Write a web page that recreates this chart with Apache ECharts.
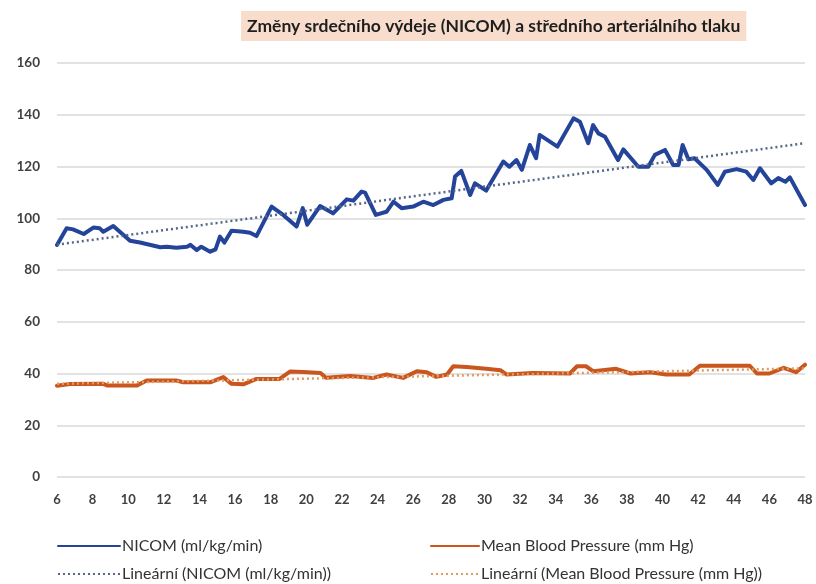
<!DOCTYPE html>
<html>
<head>
<meta charset="utf-8">
<script src="https://cdn.jsdelivr.net/npm/echarts@6/dist/echarts.min.js"></script>
<style>
html,body{margin:0;padding:0;background:#fff;}
#chart{width:816px;height:584px;}
</style>
</head>
<body>
<div id="chart"></div>
<script>
const titleText = 'Změny srdečního výdeje (NICOM) a středního arteriálního tlaku';
const xTicks = {min: 6, max: 48, interval: 2};
const yTicks = {min: 0, max: 160, interval: 20};
const seriesNames = ['NICOM (ml/kg/min)', 'Mean Blood Pressure (mm Hg)', 'Lineární (NICOM (ml/kg/min))', 'Lineární (Mean Blood Pressure (mm Hg))'];

const nicom = [
  [6, 89.7], [6.54, 96.1], [6.9, 95.7], [7.5, 93.9], [8.04, 96.4], [8.4, 96.1], [8.6, 94.8], [9.16, 97.0],
  [10.1, 91.3], [10.66, 90.6], [11.8, 88.8], [12.16, 89.0], [12.7, 88.6], [13.3, 89.0], [13.5, 89.7],
  [13.84, 87.7], [14.1, 89.0], [14.6, 87.1], [14.9, 88.0], [15.15, 92.9], [15.4, 90.6], [15.8, 95.2],
  [16.46, 94.8], [16.84, 94.4], [17.2, 93.1], [18.05, 104.5], [18.7, 101.3], [19.45, 96.8], [19.8, 103.9],
  [20.05, 97.5], [20.77, 104.7], [21.5, 101.9], [22.27, 107.3], [22.64, 106.8], [23.1, 110.3], [23.3, 109.9],
  [23.9, 101.3], [24.5, 102.5], [24.9, 106.4], [25.35, 103.9], [26.0, 104.5], [26.57, 106.4], [27.13, 105.1],
  [27.7, 107.1], [28.16, 107.7], [28.35, 116.1], [28.7, 118.3], [29.2, 109.0], [29.47, 113.5], [30.1, 110.7],
  [31.06, 121.9], [31.4, 119.9], [31.8, 122.5], [32.1, 118.7], [32.55, 128.3], [32.9, 123.2], [33.1, 132.2],
  [34.1, 127.7], [35.0, 138.6], [35.36, 137.3], [35.83, 129.0], [36.1, 136.0], [36.4, 132.8], [36.77, 131.5],
  [37.5, 122.5], [37.8, 126.6], [38.64, 119.9], [39.2, 119.9], [39.57, 124.5], [40.14, 126.4], [40.6, 120.6],
  [40.9, 120.6], [41.13, 128.3], [41.45, 122.8], [41.8, 123.2], [42.48, 118.7], [43.1, 112.9], [43.5, 118.0],
  [44.16, 119.0], [44.7, 118.0], [45.1, 114.8], [45.47, 119.3], [46.1, 113.5], [46.5, 115.5], [46.9, 114.1],
  [47.15, 115.8], [48, 105.1]
];

const mbp = [
  [6, 35.3], [6.73, 35.9], [8.6, 36.0], [8.8, 35.4], [10.5, 35.4], [11.04, 37.3], [12.7, 37.3], [13.1, 36.6],
  [14.6, 36.6], [15.34, 38.6], [15.8, 36.0], [16.46, 35.8], [17.2, 37.9], [18.5, 37.9], [19.1, 40.8],
  [19.83, 40.6], [20.8, 40.2], [21.1, 38.4], [22.45, 39.0], [23.76, 38.3], [24.5, 39.6], [25.44, 38.3],
  [26.2, 40.9], [26.76, 40.5], [27.3, 38.7], [27.9, 39.6], [28.25, 42.8], [29.0, 42.5], [30.1, 41.8],
  [30.9, 41.3], [31.25, 39.6], [32.7, 40.2], [34.8, 40.0], [35.2, 42.8], [35.7, 42.8], [36.1, 40.9],
  [37.4, 41.8], [38.2, 40.0], [39.3, 40.5], [40.2, 39.6], [41.5, 39.6], [42.1, 43.0], [44.9, 43.0],
  [45.3, 40.0], [46.0, 40.0], [46.8, 42.2], [47.5, 40.5], [48, 43.4]
];

const nicomTrend = [[6, 89.8], [48, 129.0]];
const mbpTrend = [[6, 36.0], [48, 42.0]];

const blue = '#24449A';
const orange = '#C8561E';
const trendBlue = '#55668A';
const trendOrange = '#E39A5E';
const font = 'Lato, sans-serif';

const chart = echarts.init(document.getElementById('chart'), null, {renderer: 'canvas'});

function legendAt(name, left, top, w) {
  return {
    data: [name], left: left, top: top, itemWidth: w, itemHeight: 14, itemGap: 2,
    padding: 0, itemStyle: {opacity: 0},
    textStyle: {fontFamily: font, fontSize: 16, color: '#333', padding: [0, 0, 0, -3]}
  };
}

chart.setOption({
  animation: false,
  backgroundColor: '#fff',
  title: {
    text: titleText, left: 241, top: 11,
    backgroundColor: '#F8DDCD', padding: [6, 6, 6, 6],
    textStyle: {fontFamily: font, fontSize: 17.5, fontWeight: 'bold', color: '#1e1e1e'}
  },
  legend: [
    legendAt(seriesNames[0], 57, 538, 62),
    legendAt(seriesNames[1], 430, 538, 48),
    legendAt(seriesNames[2], 57, 566, 62),
    legendAt(seriesNames[3], 430, 566, 48)
  ],
  grid: {left: 57, right: 11, top: 63, bottom: 107, containLabel: false},
  xAxis: {
    type: 'value', min: xTicks.min, max: xTicks.max, interval: xTicks.interval,
    axisLine: {show: false}, axisTick: {show: false}, splitLine: {show: false},
    axisLabel: {fontFamily: font, fontSize: 13, fontWeight: 'bold', color: '#404040', margin: 16}
  },
  yAxis: {
    type: 'value', min: yTicks.min, max: yTicks.max, interval: yTicks.interval,
    axisLine: {show: false}, axisTick: {show: false},
    splitLine: {lineStyle: {color: '#D9D9D9', width: 1.5}},
    axisLabel: {fontFamily: font, fontSize: 13.5, fontWeight: 'bold', color: '#404040', margin: 17}
  },
  series: [
    {name: seriesNames[0], type: 'line', data: nicom, symbol: 'none', z: 3,
     lineStyle: {color: blue, width: 4, cap: 'round', join: 'round'}, itemStyle: {color: blue}},
    {name: seriesNames[1], type: 'line', data: mbp, symbol: 'none', z: 3,
     lineStyle: {color: orange, width: 4, cap: 'round', join: 'round'}, itemStyle: {color: orange}},
    {name: seriesNames[2], type: 'line', data: nicomTrend, symbol: 'none', z: 4,
     lineStyle: {color: trendBlue, width: 2.5, type: [2, 3]}, itemStyle: {color: trendBlue}},
    {name: seriesNames[3], type: 'line', data: mbpTrend, symbol: 'none', z: 4,
     lineStyle: {color: trendOrange, width: 2.5, type: [2, 3]}, itemStyle: {color: trendOrange}}
  ]
});
</script>
</body>
</html>
